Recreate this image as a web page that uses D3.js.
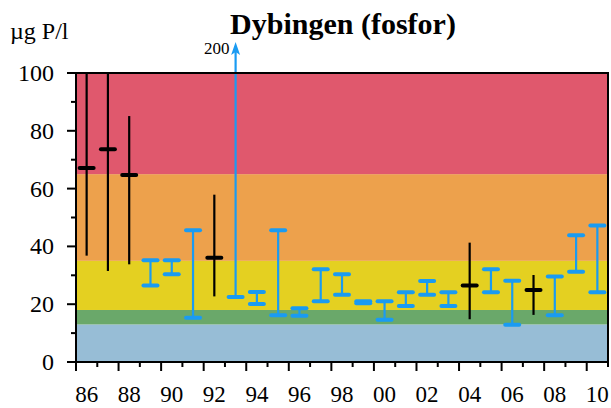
<!doctype html>
<html lang="no">
<head>
<meta charset="UTF-8">
<title>Dybingen (fosfor)</title>
<script src="https://d3js.org/d3.v7.min.js"></script>
<style>
  body { margin: 0; background: #fff; }
  svg { display: block; }
  svg text { font-family: "Liberation Serif", "DejaVu Serif", serif; fill: #000; }
</style>
</head>
<body>
<svg width="611" height="408"></svg>
<script>
// observations per year (µg P/l); mean only for the black bars
var years = [1986, 1987, 1988, 1989, 1990, 1991, 1992, 1993, 1994, 1995, 1996, 1997, 1998,
             1999, 2000, 2001, 2002, 2003, 2004, 2005, 2006, 2007, 2008, 2009, 2010];
var maxVals = [100, 100, 85.1, 35.2, 35.2, 45.6, 57.9, 200, 24.2, 45.6, 18.6, 32.1, 30.4,
               21.0, 21.0, 24.1, 28.0, 24.1, 41.3, 32.1, 28.1, 30.1, 29.6, 43.9, 47.2];
var minVals = [36.8, 31.5, 33.8, 26.5, 30.4, 15.3, 22.7, 22.5, 20.1, 16.2, 16.0, 21.0, 23.3,
               20.3, 14.6, 19.4, 23.3, 19.4, 14.8, 24.1, 12.9, 16.3, 16.2, 31.2, 24.1];
var meanVals = [67.1, 73.6, 64.7, null, null, null, 36.1, null, null, null, null, null, null,
                null, null, null, null, null, 26.5, null, null, 24.9, null, null, null];

// condition classes
var bandLimits = [0, 13, 18, 35, 65, 100];
var bandColors = ["#97bdd6", "#6aa86a", "#e4d021", "#eda14c", "#e0586d"];

var yTicks = [0, 20, 40, 60, 80, 100];
var yMinor = [10, 30, 50, 70, 90];

var svg = d3.select("svg");
var pLeft = 76, pRight = 608, pTop = 73, pBottom = 362;

var x = d3.scaleBand().domain(years).range([pLeft, pRight]).padding(0);
var y = d3.scaleLinear().domain([0, 100]).range([pBottom, pTop]);

var blue = "#1a9bf2";

// background bands
for (var i = 0; i < bandColors.length; i++) {
  svg.append("rect")
    .attr("x", pLeft).attr("width", pRight - pLeft)
    .attr("y", y(bandLimits[i + 1]))
    .attr("height", y(bandLimits[i]) - y(bandLimits[i + 1]))
    .attr("fill", bandColors[i]);
}

var data = years.map(function (yr, i) {
  return { year: yr, min: minVals[i], max: maxVals[i], mean: meanVals[i] };
});

var bars = svg.append("g");
data.forEach(function (d) {
  var cx = x(d.year) + x.bandwidth() / 2;
  if (d.mean !== null) {
    bars.append("line")
      .attr("x1", cx).attr("x2", cx)
      .attr("y1", y(Math.min(d.max, 100))).attr("y2", y(d.min))
      .attr("stroke", "#000").attr("stroke-width", 2.2);
    bars.append("line")
      .attr("x1", cx - 7).attr("x2", cx + 7)
      .attr("y1", y(d.mean)).attr("y2", y(d.mean))
      .attr("stroke", "#000").attr("stroke-width", 4).attr("stroke-linecap", "round");
  } else if (d.max > 100) {
    // off the scale: arrow with the value written beside it
    bars.append("line")
      .attr("x1", cx).attr("x2", cx)
      .attr("y1", 52).attr("y2", y(d.min))
      .attr("stroke", blue).attr("stroke-width", 2.2);
    bars.append("path")
      .attr("d", "M" + cx + ",42L" + (cx + 4.5) + ",55L" + cx + ",52L" + (cx - 4.5) + ",55Z")
      .attr("fill", blue);
    bars.append("line")
      .attr("x1", cx - 7).attr("x2", cx + 7)
      .attr("y1", y(d.min)).attr("y2", y(d.min))
      .attr("stroke", blue).attr("stroke-width", 4).attr("stroke-linecap", "round");
    svg.append("text")
      .attr("x", cx - 6).attr("y", 54)
      .attr("text-anchor", "end").attr("font-size", 17)
      .text(d.max);
  } else {
    bars.append("line")
      .attr("x1", cx).attr("x2", cx)
      .attr("y1", y(d.max)).attr("y2", y(d.min))
      .attr("stroke", blue).attr("stroke-width", 2.2);
    [d.max, d.min].forEach(function (v) {
      bars.append("line")
        .attr("x1", cx - 7).attr("x2", cx + 7)
        .attr("y1", y(v)).attr("y2", y(v))
        .attr("stroke", blue).attr("stroke-width", 4).attr("stroke-linecap", "round");
    });
  }
});

// frame
svg.append("rect")
  .attr("x", pLeft).attr("y", pTop).attr("width", pRight - pLeft).attr("height", pBottom - pTop)
  .attr("fill", "none").attr("stroke", "#000").attr("stroke-width", 2);

// y axis
var yAxis = svg.append("g");
yTicks.forEach(function (t) {
  yAxis.append("line").attr("x1", pLeft - 9).attr("x2", pLeft).attr("y1", y(t)).attr("y2", y(t))
    .attr("stroke", "#000").attr("stroke-width", 2);
  yAxis.append("text").attr("x", 54).attr("y", y(t)).attr("dy", "0.33em")
    .attr("text-anchor", "end").attr("font-size", 24).text(t);
});
yMinor.forEach(function (t) {
  yAxis.append("line").attr("x1", pLeft - 5).attr("x2", pLeft).attr("y1", y(t)).attr("y2", y(t))
    .attr("stroke", "#000").attr("stroke-width", 2);
});

// x axis: ticks on the year boundaries, labels on even years
var xAxis = svg.append("g");
years.concat([null]).forEach(function (yr, i) {
  var px = yr === null ? pRight : x(yr);
  xAxis.append("line").attr("x1", px).attr("x2", px)
    .attr("y1", pBottom).attr("y2", pBottom + (i % 2 === 0 ? 9 : 5))
    .attr("stroke", "#000").attr("stroke-width", 2);
});
years.filter(function (yr) { return yr % 2 === 0; }).forEach(function (yr) {
  xAxis.append("text")
    .attr("x", x(yr) + x.bandwidth() / 2).attr("y", 402)
    .attr("text-anchor", "middle").attr("font-size", 23)
    .text(String(yr).slice(2));
});

// titles
svg.append("text").attr("x", 343).attr("y", 34).attr("text-anchor", "middle")
  .attr("font-size", 30).attr("font-weight", "bold").text("Dybingen (fosfor)");
svg.append("text").attr("x", 10).attr("y", 39).attr("font-size", 24).text("µg P/l");
</script>
</body>
</html>
